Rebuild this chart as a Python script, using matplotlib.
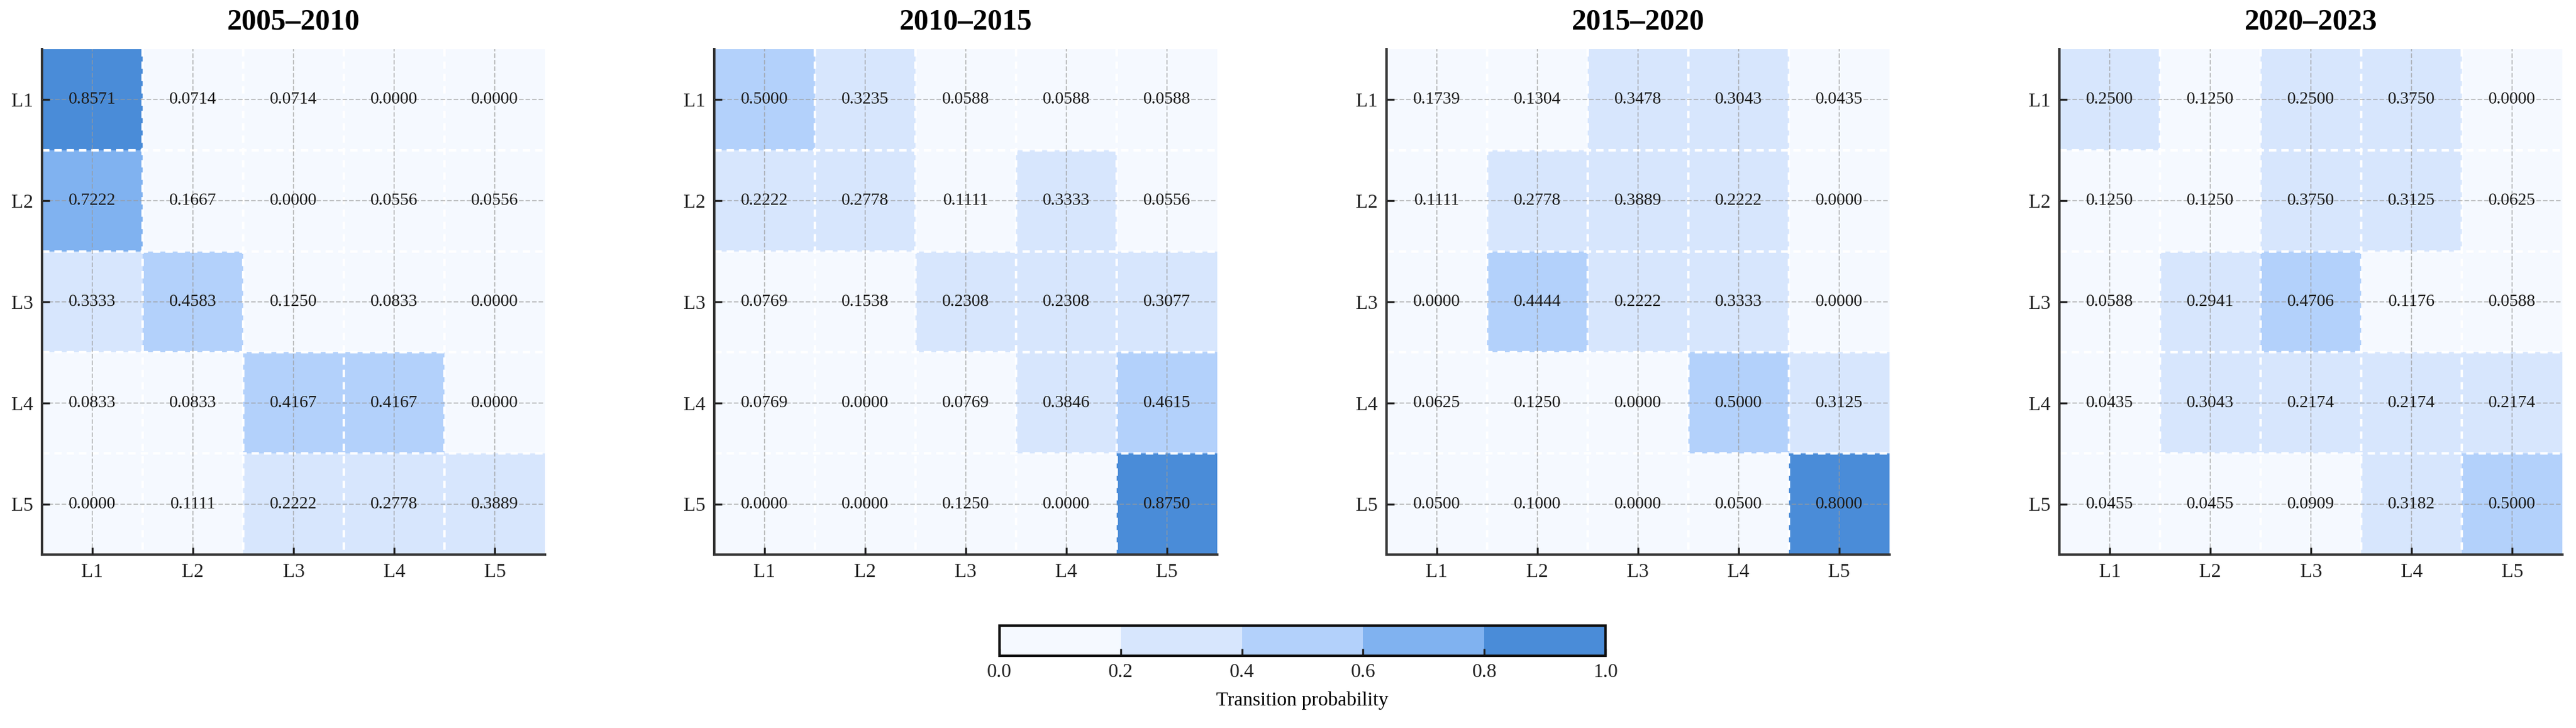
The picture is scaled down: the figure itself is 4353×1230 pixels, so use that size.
import numpy as np
import matplotlib
matplotlib.use("Agg")
import matplotlib.pyplot as plt
from matplotlib.colors import ListedColormap, BoundaryNorm

plt.rcParams['font.family'] = ['Liberation Serif', 'DejaVu Serif']

levels = ["L1", "L2", "L3", "L4", "L5"]
periods = ["2005–2010", "2010–2015", "2015–2020", "2020–2023"]

m_2005_2010 = [
    [0.8571, 0.0714, 0.0714, 0.0000, 0.0000],
    [0.7222, 0.1667, 0.0000, 0.0556, 0.0556],
    [0.3333, 0.4583, 0.1250, 0.0833, 0.0000],
    [0.0833, 0.0833, 0.4167, 0.4167, 0.0000],
    [0.0000, 0.1111, 0.2222, 0.2778, 0.3889],
]
m_2010_2015 = [
    [0.5000, 0.3235, 0.0588, 0.0588, 0.0588],
    [0.2222, 0.2778, 0.1111, 0.3333, 0.0556],
    [0.0769, 0.1538, 0.2308, 0.2308, 0.3077],
    [0.0769, 0.0000, 0.0769, 0.3846, 0.4615],
    [0.0000, 0.0000, 0.1250, 0.0000, 0.8750],
]
m_2015_2020 = [
    [0.1739, 0.1304, 0.3478, 0.3043, 0.0435],
    [0.1111, 0.2778, 0.3889, 0.2222, 0.0000],
    [0.0000, 0.4444, 0.2222, 0.3333, 0.0000],
    [0.0625, 0.1250, 0.0000, 0.5000, 0.3125],
    [0.0500, 0.1000, 0.0000, 0.0500, 0.8000],
]
m_2020_2023 = [
    [0.2500, 0.1250, 0.2500, 0.3750, 0.0000],
    [0.1250, 0.1250, 0.3750, 0.3125, 0.0625],
    [0.0588, 0.2941, 0.4706, 0.1176, 0.0588],
    [0.0435, 0.3043, 0.2174, 0.2174, 0.2174],
    [0.0455, 0.0455, 0.0909, 0.3182, 0.5000],
]
matrices = [m_2005_2010, m_2010_2015, m_2015_2020, m_2020_2023]

bounds = [0.0, 0.2, 0.4, 0.6, 0.8, 1.0]
colors = ["#F5F9FF", "#D7E6FD", "#B3D1FB", "#80B2F0", "#4A8CD8"]
cmap = ListedColormap(colors)
norm = BoundaryNorm(bounds, cmap.N)

W, H = 4353, 1230
fig = plt.figure(figsize=(W / 300, H / 300), dpi=300)

lefts = [71, 1207, 2343, 3480]
aw, ah = 850, 854
bottom = H - 937

mesh = None
for k, (M, title) in enumerate(zip(matrices, periods)):
    ax = fig.add_axes([lefts[k] / W, bottom / H, aw / W, ah / H])
    data = np.array(M)
    n = len(levels)
    xe = np.arange(n + 1) - 0.5
    ye = np.arange(n + 1) - 0.5
    mesh = ax.pcolormesh(xe, ye, data, cmap=cmap, norm=norm, zorder=1)
    # dashed white cell borders
    ax.vlines(xe[1:-1], -0.5, n - 0.5, colors='white', linestyles=(0, (3, 2)),
              linewidth=1.0, zorder=1.5)
    ax.hlines(ye[1:-1], -0.5, n - 0.5, colors='white', linestyles=(0, (3, 2)),
              linewidth=1.0, zorder=1.5)
    ax.set_xlim(-0.5, n - 0.5)
    ax.set_ylim(n - 0.5, -0.5)
    ax.set_xticks(range(n))
    ax.set_yticks(range(n))
    ax.set_xticklabels(levels)
    ax.set_yticklabels(levels)
    ax.tick_params(direction='in', length=3, width=0.8, labelsize=8,
                   colors='#222222', pad=3.5)
    ax.grid(True, color='#9a9a9a', linestyle='--', linewidth=0.5,
            alpha=0.6, zorder=2)
    ax.set_axisbelow(False)
    for s in ['top', 'right']:
        ax.spines[s].set_visible(False)
    for s in ['left', 'bottom']:
        ax.spines[s].set_linewidth(1.0)
        ax.spines[s].set_color('#333333')
    for i in range(n):
        for j in range(n):
            ax.text(j, i, f"{data[i, j]:.4f}", ha='center', va='center',
                    fontsize=7, color='#1a1a1a', zorder=3)
    ax.set_title(title, fontsize=12, fontweight='bold', pad=8)

cax = fig.add_axes([1689 / W, (H - 1108) / H, 1024 / W, 51 / H])
cb = fig.colorbar(mesh, cax=cax, orientation='horizontal', ticks=bounds)
cb.outline.set_linewidth(1.0)
cb.outline.set_edgecolor('#111111')
cb.ax.tick_params(direction='in', length=3, width=0.8, labelsize=8,
                  colors='#222222', pad=3)
cb.ax.set_xticklabels([f"{b:.1f}" for b in bounds])
cb.set_label("Transition probability", fontsize=8, labelpad=4)

fig.savefig("out.png", dpi=300)
